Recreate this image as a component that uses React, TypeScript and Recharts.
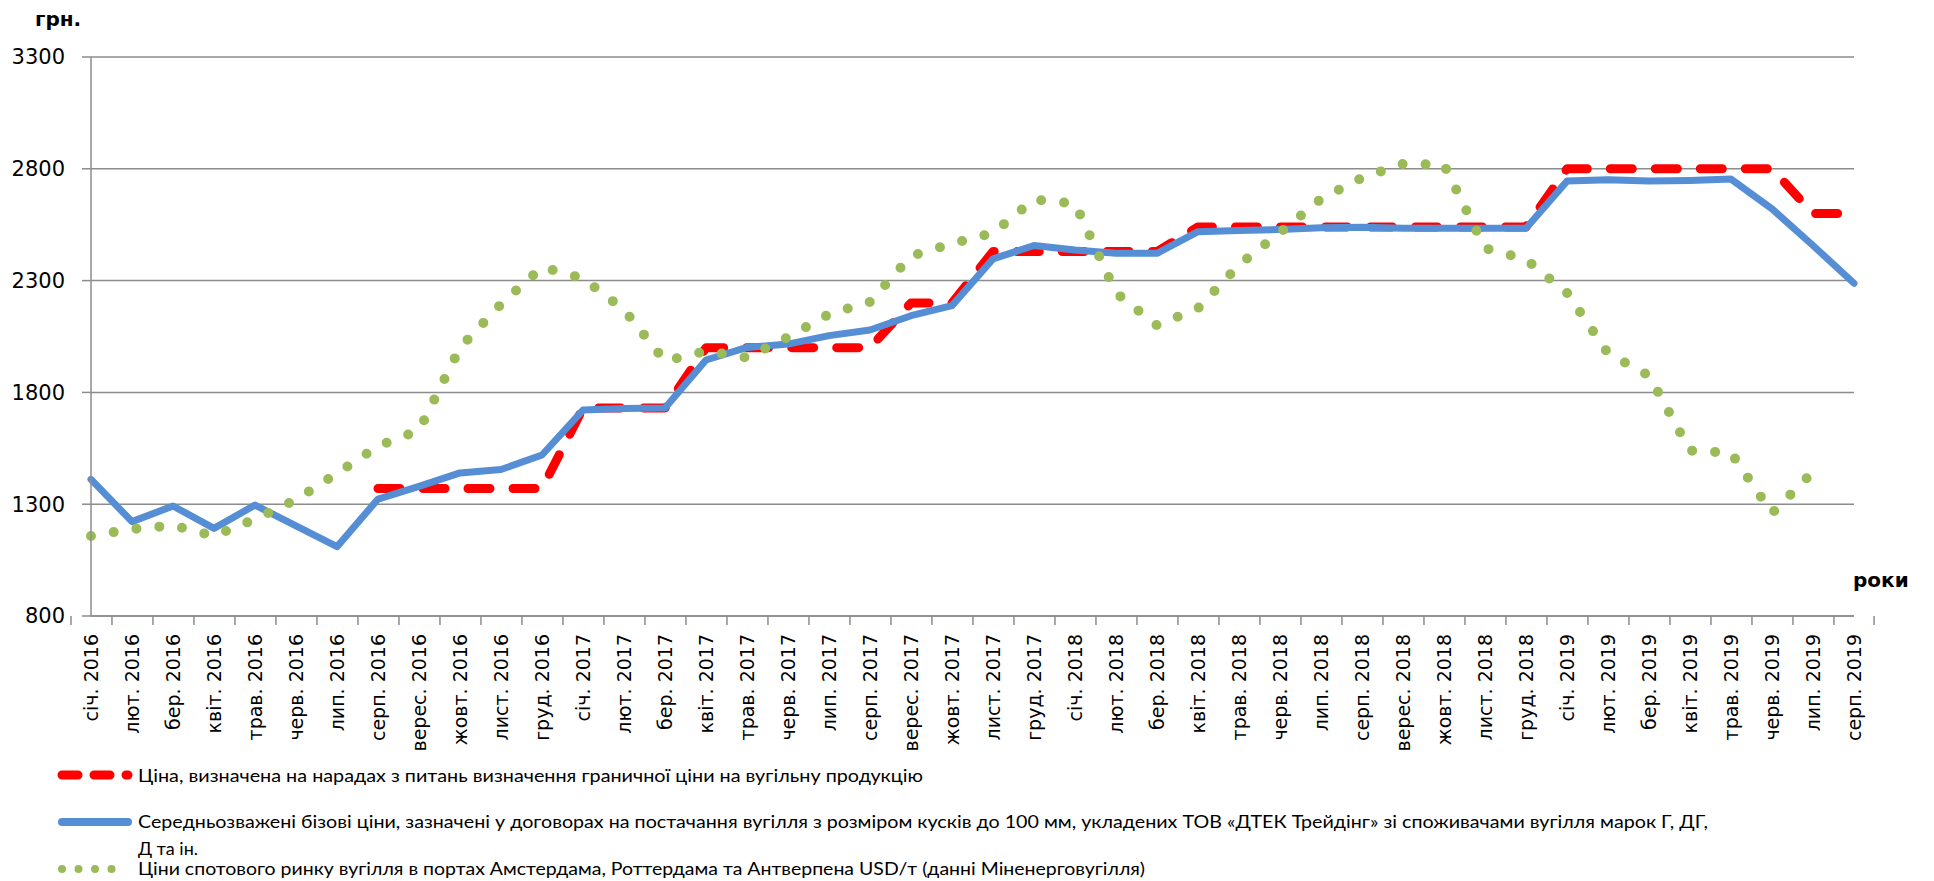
import React from 'react';
import { LineChart, Line, XAxis, YAxis, CartesianGrid, Legend, Label } from 'recharts';

const months = [
  'січ. 2016', 'лют. 2016', 'бер. 2016', 'квіт. 2016', 'трав. 2016', 'черв. 2016', 'лип. 2016', 'серп. 2016',
  'верес. 2016', 'жовт. 2016', 'лист. 2016', 'груд. 2016',
  'січ. 2017', 'лют. 2017', 'бер. 2017', 'квіт. 2017', 'трав. 2017', 'черв. 2017', 'лип. 2017', 'серп. 2017',
  'верес. 2017', 'жовт. 2017', 'лист. 2017', 'груд. 2017',
  'січ. 2018', 'лют. 2018', 'бер. 2018', 'квіт. 2018', 'трав. 2018', 'черв. 2018', 'лип. 2018', 'серп. 2018',
  'верес. 2018', 'жовт. 2018', 'лист. 2018', 'груд. 2018',
  'січ. 2019', 'лют. 2019', 'бер. 2019', 'квіт. 2019', 'трав. 2019', 'черв. 2019', 'лип. 2019', 'серп. 2019',
];

// Ціна, визначена на нарадах (red dashed)
const limitPrice: (number | null)[] = [
  null, null, null, null, null, null, null, 1370,
  1370, 1370, 1370, 1370,
  1730, 1730, 1730, 2000, 2000, 2000, 2000, 2000,
  2200, 2200, 2430, 2430,
  2430, 2430, 2430, 2540, 2540, 2540, 2540, 2540,
  2540, 2540, 2540, 2540,
  2800, 2800, 2800, 2800, 2800, 2800, 2600, 2600,
];

// Середньозважені бізові ціни (blue solid)
const basePrice: (number | null)[] = [
  1411, 1222, 1292, 1192, 1296, 1203, 1110, 1323,
  1380, 1440, 1455, 1520,
  1721, 1728, 1730, 1945, 2001, 2016, 2054, 2079,
  2143, 2188, 2397, 2457,
  2437, 2422, 2422, 2519, 2524, 2528, 2536, 2539,
  2534, 2534, 2534, 2534,
  2745, 2751, 2745, 2748, 2754, 2621, 2457, 2288,
];

// Ціни спотового ринку (green dotted)
const spotPrice: (number | null)[] = [
  1158, 1189, 1205, 1158, 1233, 1320, 1438, 1560,
  1630, 2000, 2195, 2360,
  2310, 2170, 1940, 1985, 1955, 2047, 2150, 2205,
  2410, 2465, 2513, 2662,
  2645, 2245, 2100, 2176, 2370, 2515, 2665, 2760,
  2822, 2818, 2445, 2395,
  2245, 1975, 1875, 1540, 1530, 1260, 1445, null,
];

const yTicks = [800, 1300, 1800, 2300, 2800, 3300];

const legendLabels = [
  'Ціна, визначена на нарадах з питань визначення граничної ціни на вугільну продукцію',
  'Середньозважені бізові ціни, зазначені у договорах на постачання вугілля з розміром кусків до 100 мм, укладених ТОВ «ДТЕК Трейдінг» зі споживачами вугілля марок Г, ДГ,',
  'Д та ін.',
  'Ціни спотового ринку вугілля в портах Амстердама, Роттердама та Антверпена USD/т (данні Міненерговугілля)',
];

const data = months.map((m, i) => ({
  month: m,
  limit: limitPrice[i],
  base: basePrice[i],
  spot: spotPrice[i],
}));

const W = 1934;
const H = 881;
const PLOT_LEFT = 91;
const PLOT_RIGHT = 1854;
const PLOT_TOP = 57;
const PLOT_BOTTOM = 616;
const BAND = (PLOT_RIGHT - PLOT_LEFT) / months.length;

const RED = '#FF0000';
const BLUE = '#558ED5';
const GREEN = '#9BBB59';
const GRID = '#8C8C8C';
const FONT = '"DejaVu Sans", sans-serif';
const LEGEND_FONT = 'Lato, "DejaVu Sans", sans-serif';

function XTick(props: any) {
  const { x, payload, index } = props;
  const ty = PLOT_BOTTOM + 18;
  return (
    <g>
      <line x1={x - BAND / 2} x2={x - BAND / 2} y1={PLOT_BOTTOM} y2={PLOT_BOTTOM + 9} stroke={GRID} strokeWidth={1.5} />
      {index === months.length - 1 && (
        <line x1={x + BAND / 2} x2={x + BAND / 2} y1={PLOT_BOTTOM} y2={PLOT_BOTTOM + 9} stroke={GRID} strokeWidth={1.5} />
      )}
      <text
        x={x}
        y={ty}
        transform={`rotate(-90 ${x} ${ty})`}
        textAnchor="end"
        dy="0.36em"
        fontSize={19}
        fontFamily={FONT}
        fill="#000"
      >
        {payload.value}
      </text>
    </g>
  );
}

function LegendContent() {
  const top = 755;
  return (
    <svg width={W} height={126} style={{ display: 'block' }}>
      <line x1={62} x2={128} y1={775 - top} y2={775 - top} stroke={RED} strokeWidth={9} strokeDasharray="16 16" strokeLinecap="round" />
      <line x1={62} x2={128} y1={822 - top} y2={822 - top} stroke={BLUE} strokeWidth={8} strokeLinecap="round" />
      <line x1={62} x2={128} y1={869 - top} y2={869 - top} stroke={GREEN} strokeWidth={8} strokeDasharray="0 16.5" strokeLinecap="round" />
      <g fontFamily={LEGEND_FONT} fontSize={18} fill="#000">
        <text x={138} y={782 - top} textLength={785} lengthAdjust="spacingAndGlyphs">{legendLabels[0]}</text>
        <text x={138} y={828 - top} textLength={1570} lengthAdjust="spacingAndGlyphs">{legendLabels[1]}</text>
        <text x={138} y={855 - top}>{legendLabels[2]}</text>
        <text x={138} y={875 - top} textLength={1007} lengthAdjust="spacingAndGlyphs">{legendLabels[3]}</text>
      </g>
    </svg>
  );
}

export default function App() {
  return (
    <div style={{ position: 'absolute', left: 0, top: 0, width: W, height: H, background: '#fff' }}>
      <LineChart
        width={W}
        height={H}
        data={data}
        margin={{ top: PLOT_TOP, right: W - PLOT_RIGHT, bottom: 0, left: 0 }}
      >
        <CartesianGrid vertical={false} stroke={GRID} strokeWidth={1.5} />
        <XAxis
          dataKey="month"
          interval={0}
          height={H - PLOT_BOTTOM}
          tickLine={false}
          axisLine={{ stroke: GRID, strokeWidth: 1.5 }}
          tick={<XTick />}
        >
          <Label
            content={() => (
              <text x={1853} y={587} fontFamily={FONT} fontWeight="bold" fontSize={20} fill="#000">роки</text>
            )}
          />
        </XAxis>
        <YAxis
          width={PLOT_LEFT}
          domain={[800, 3300]}
          ticks={yTicks}
          interval={0}
          tickSize={9}
          tickMargin={17}
          tickLine={{ stroke: GRID, strokeWidth: 1.5 }}
          axisLine={{ stroke: GRID, strokeWidth: 1.5 }}
          tick={{ fontSize: 21, fontFamily: FONT, fill: '#000' }}
        >
          <Label
            content={() => (
              <text x={35} y={26} fontFamily={FONT} fontWeight="bold" fontSize={20} fill="#000">грн.</text>
            )}
          />
        </YAxis>
        <Legend
          layout="horizontal"
          verticalAlign="middle"
          align="center"
          content={() => <LegendContent />}
          wrapperStyle={{ left: 0, top: 755, width: W, height: 126 }}
        />
        <Line
          type="linear"
          dataKey="limit"
          stroke={RED}
          strokeWidth={9}
          strokeDasharray="22 23"
          strokeLinecap="round"
          strokeLinejoin="round"
          dot={false}
          activeDot={false}
          isAnimationActive={false}
        />
        <Line
          type="linear"
          dataKey="base"
          stroke={BLUE}
          strokeWidth={7}
          strokeLinecap="round"
          strokeLinejoin="round"
          dot={false}
          activeDot={false}
          isAnimationActive={false}
        />
        <Line
          type="linear"
          dataKey="spot"
          stroke={GREEN}
          strokeWidth={10}
          strokeDasharray="0 23"
          strokeLinecap="round"
          dot={false}
          activeDot={false}
          isAnimationActive={false}
        />
      </LineChart>
    </div>
  );
}
